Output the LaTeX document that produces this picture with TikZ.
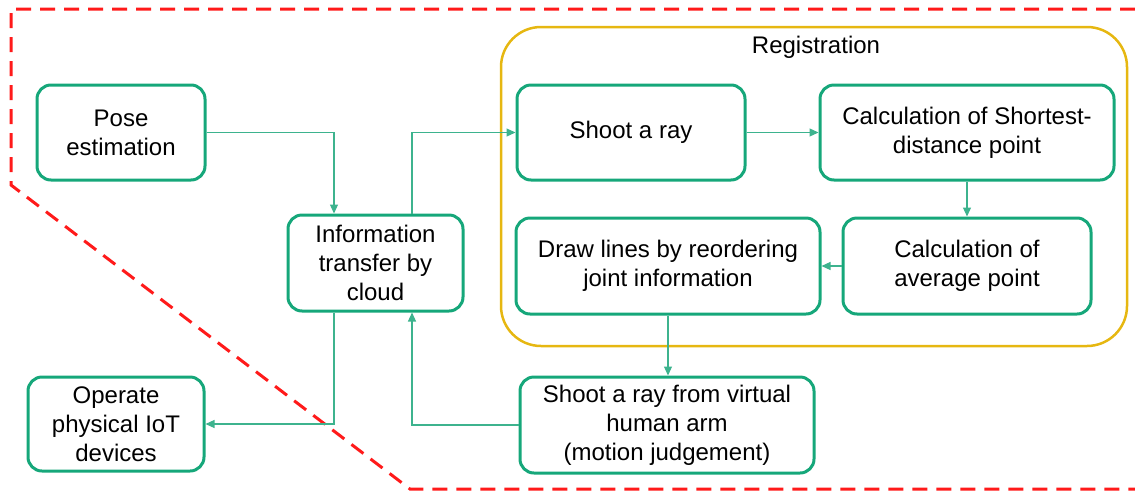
\documentclass[tikz,border=0pt]{standalone}
\usepackage{fontspec}
\setmainfont{Liberation Sans}
\usetikzlibrary{arrows.meta}
\definecolor{boxgreen}{HTML}{16A77A}
\definecolor{linkgreen}{HTML}{3DB38E}
\definecolor{regyellow}{HTML}{E6B711}
\definecolor{zonered}{HTML}{FF1A1A}

\begin{document}
\begin{tikzpicture}[x=1pt,y=-1pt,
  stepbox/.style={draw=boxgreen, line width=3pt, rounded corners=14pt,
    align=center, font=\fontsize{24}{29}\selectfont, inner sep=0pt},
  link/.style={draw=linkgreen, line width=1.2pt, -{Triangle[length=9pt,width=8pt]}},
  zone/.style={draw=zonered, line width=3pt, dash pattern=on 15pt off 9pt},
]
\useasboundingbox (0,0) rectangle (1135,491);

% dashed zone boundary
\draw[zone] (1135,9) -- (11,9) -- (11,185) -- (410,489) -- (1135,489);

% registration group
\draw[regyellow, line width=2.5pt, rounded corners=40pt] (501,27) rectangle (1127,346);
\node[font=\fontsize{24}{29}\selectfont] (reglabel) at (816,47) {Registration};

% process steps
\node[stepbox, minimum width=168pt, minimum height=95pt] (pose) at (121,132.5) {Pose\\estimation};
\node[stepbox, minimum width=175pt, minimum height=96pt] (info) at (375.5,263) {Information\\transfer by\\cloud};
\node[stepbox, minimum width=176pt, minimum height=94pt] (operate) at (116,424) {Operate\\physical IoT\\devices};
\node[stepbox, minimum width=228pt, minimum height=95pt] (shoot) at (631,132.5) {Shoot a ray};
\node[stepbox, minimum width=294pt, minimum height=95pt] (shortest) at (967,132.5) {Calculation of Shortest-\\distance point};
\node[stepbox, minimum width=248pt, minimum height=96pt] (average) at (967,266) {Calculation of\\average point};
\node[stepbox, minimum width=304pt, minimum height=96pt] (drawlines) at (668,266) {Draw lines by reordering\\joint information};
\node[stepbox, minimum width=294pt, minimum height=96pt] (virtual) at (667,425) {Shoot a ray from virtual\\human arm\\(motion judgement)};

% connectors
\draw[link] (pose.east) -| ([xshift=-41.5pt]info.north);
\draw[link] ([xshift=36.5pt]info.north) |- (shoot.west);
\draw[link] (shoot.east) -- (shortest.west);
\draw[link] (shortest.south) -- (average.north);
\draw[link] (average.west) -- (drawlines.east);
\draw[link] (drawlines.south) -- (drawlines.south |- virtual.north);
\draw[link] (virtual.west) -| ([xshift=36.5pt]info.south);
\draw[link] ([xshift=-41.5pt]info.south) |- (operate.east);
\end{tikzpicture}
\end{document}
